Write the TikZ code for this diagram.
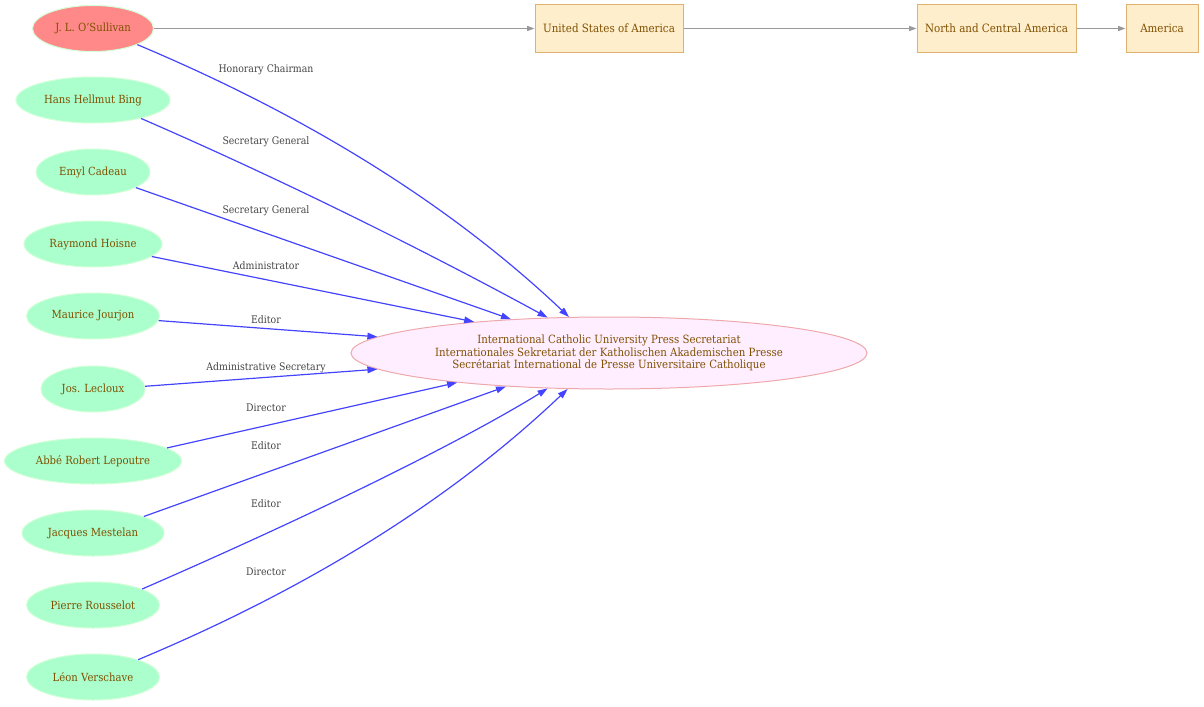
\documentclass[tikz,border=0pt]{standalone}
\usepackage{fontspec}
\setmainfont{DejaVu Serif}[FakeStretch=0.9]
\usetikzlibrary{shapes.geometric,arrows.meta}
\definecolor{personfill}{HTML}{AAFFCC}
\definecolor{personline}{HTML}{D0FFD8}
\definecolor{chairfill}{HTML}{FF8888}
\definecolor{orgfill}{HTML}{FFEEFF}
\definecolor{orgline}{HTML}{EEA8AC}
\definecolor{placefill}{HTML}{FFEECC}
\definecolor{placeline}{HTML}{E0B070}
\definecolor{nodetext}{HTML}{805000}
\definecolor{labtext}{HTML}{444444}
\definecolor{roleblue}{HTML}{4444FF}
\definecolor{geogray}{HTML}{999999}
\tikzset{
  person/.style={ellipse, draw=personline, line width=0.75pt, fill=personfill, inner sep=0pt,
    minimum height=34.5pt, text=nodetext, font=\fontsize{8.4pt}{10pt}\selectfont},
  chair/.style={person, fill=chairfill},
  org/.style={ellipse, draw=orgline, line width=0.75pt, fill=orgfill, inner sep=0pt,
    minimum width=387pt, minimum height=54pt, text=nodetext, align=center,
    font=\fontsize{8.5pt}{9.5pt}\selectfont},
  place/.style={rectangle, draw=placeline, line width=0.75pt, fill=placefill, inner sep=0pt,
    minimum height=36pt, text=nodetext, font=\fontsize{8.6pt}{10pt}\selectfont},
  role/.style={draw=roleblue, line width=0.9pt, -{Triangle[length=7.5pt,width=5pt]}},
  geo/.style={draw=geogray, line width=0.8pt, -{Triangle[length=5.5pt,width=3.8pt]}},
  rolelab/.style={text=labtext, inner sep=0pt, font=\fontsize{7.8pt}{9pt}\selectfont}
}
\begin{document}
\begin{tikzpicture}[x=0.75pt, y=-0.75pt]
\useasboundingbox (0,0) rectangle (1204,707);
% people
\node[chair, minimum width=90.75pt] (oss) at (93,28.5) {J. L. O'Sullivan};
\node[person, minimum width=115.5pt] (bing) at (93,100) {Hans Hellmut Bing};
\node[person, minimum width=85.5pt] (cad) at (93,172) {Emyl Cadeau};
\node[person, minimum width=103.5pt] (hoi) at (93,244) {Raymond Hoisne};
\node[person, minimum width=99.75pt] (jou) at (93,316) {Maurice Jourjon};
\node[person, minimum width=78pt] (lec) at (93,389) {Jos. Lecloux};
\node[person, minimum width=132.75pt] (lep) at (93,461) {Abbé Robert Lepoutre};
\node[person, minimum width=106.5pt] (mes) at (93,533) {Jacques Mestelan};
\node[person, minimum width=99.75pt] (rou) at (93,605) {Pierre Rousselot};
\node[person, minimum width=99.75pt] (ver) at (93,677) {Léon Verschave};
% organisation
\node[org] (sec) at (609,353) {International Catholic University Press Secretariat\\Internationales Sekretariat der Katholischen Akademischen Presse\\Secrétariat International de Presse Universitaire Catholique};
% places
\node[place, minimum width=111pt] (usa) at (609,28.5) {United States of America};
\node[place, minimum width=119.25pt] (nca) at (996.5,28.5) {North and Central America};
\node[place, minimum width=54pt] (ame) at (1162,28.5) {America};
\draw[geo] (oss) -- (usa);
\draw[geo] (usa) -- (nca);
\draw[geo] (nca) -- (ame);
% roles
\draw[role] (oss.-20) .. controls (288,108) and (438,193) .. (sec.138.7);
\draw[role] (bing.-21) .. controls (345,207) and (508,296) .. (sec.150.2);
\draw[role] (cad.-20) -- (sec.161.2);
\draw[role] (hoi.-12) -- (sec.167.9);
\draw[role] (jou.-4) -- (sec.176);
\draw[role] (lec.3) -- (sec.184.2);
\draw[role] (lep.10) -- (sec.191.8);
\draw[role] (mes.18) -- (sec.198.8);
\draw[role] (rou.18) .. controls (397,478) and (508,413) .. (sec.210.5);
\draw[role] (ver.21) .. controls (288,597) and (438,512) .. (sec.221.3);
% labels
\node[rolelab] (l1) at (266,70) {Honorary Chairman};
\node[rolelab] (l2) at (266,142) {Secretary General};
\node[rolelab] (l3) at (266,211) {Secretary General};
\node[rolelab] (l4) at (266,266) {Administrator};
\node[rolelab] (l5) at (266,320) {Editor};
\node[rolelab] (l6) at (266,368) {Administrative Secretary};
\node[rolelab] (l7) at (266,408) {Director};
\node[rolelab] (l8) at (266,446) {Editor};
\node[rolelab] (l9) at (266,504) {Editor};
\node[rolelab] (l10) at (266,572) {Director};
\end{tikzpicture}
\end{document}
